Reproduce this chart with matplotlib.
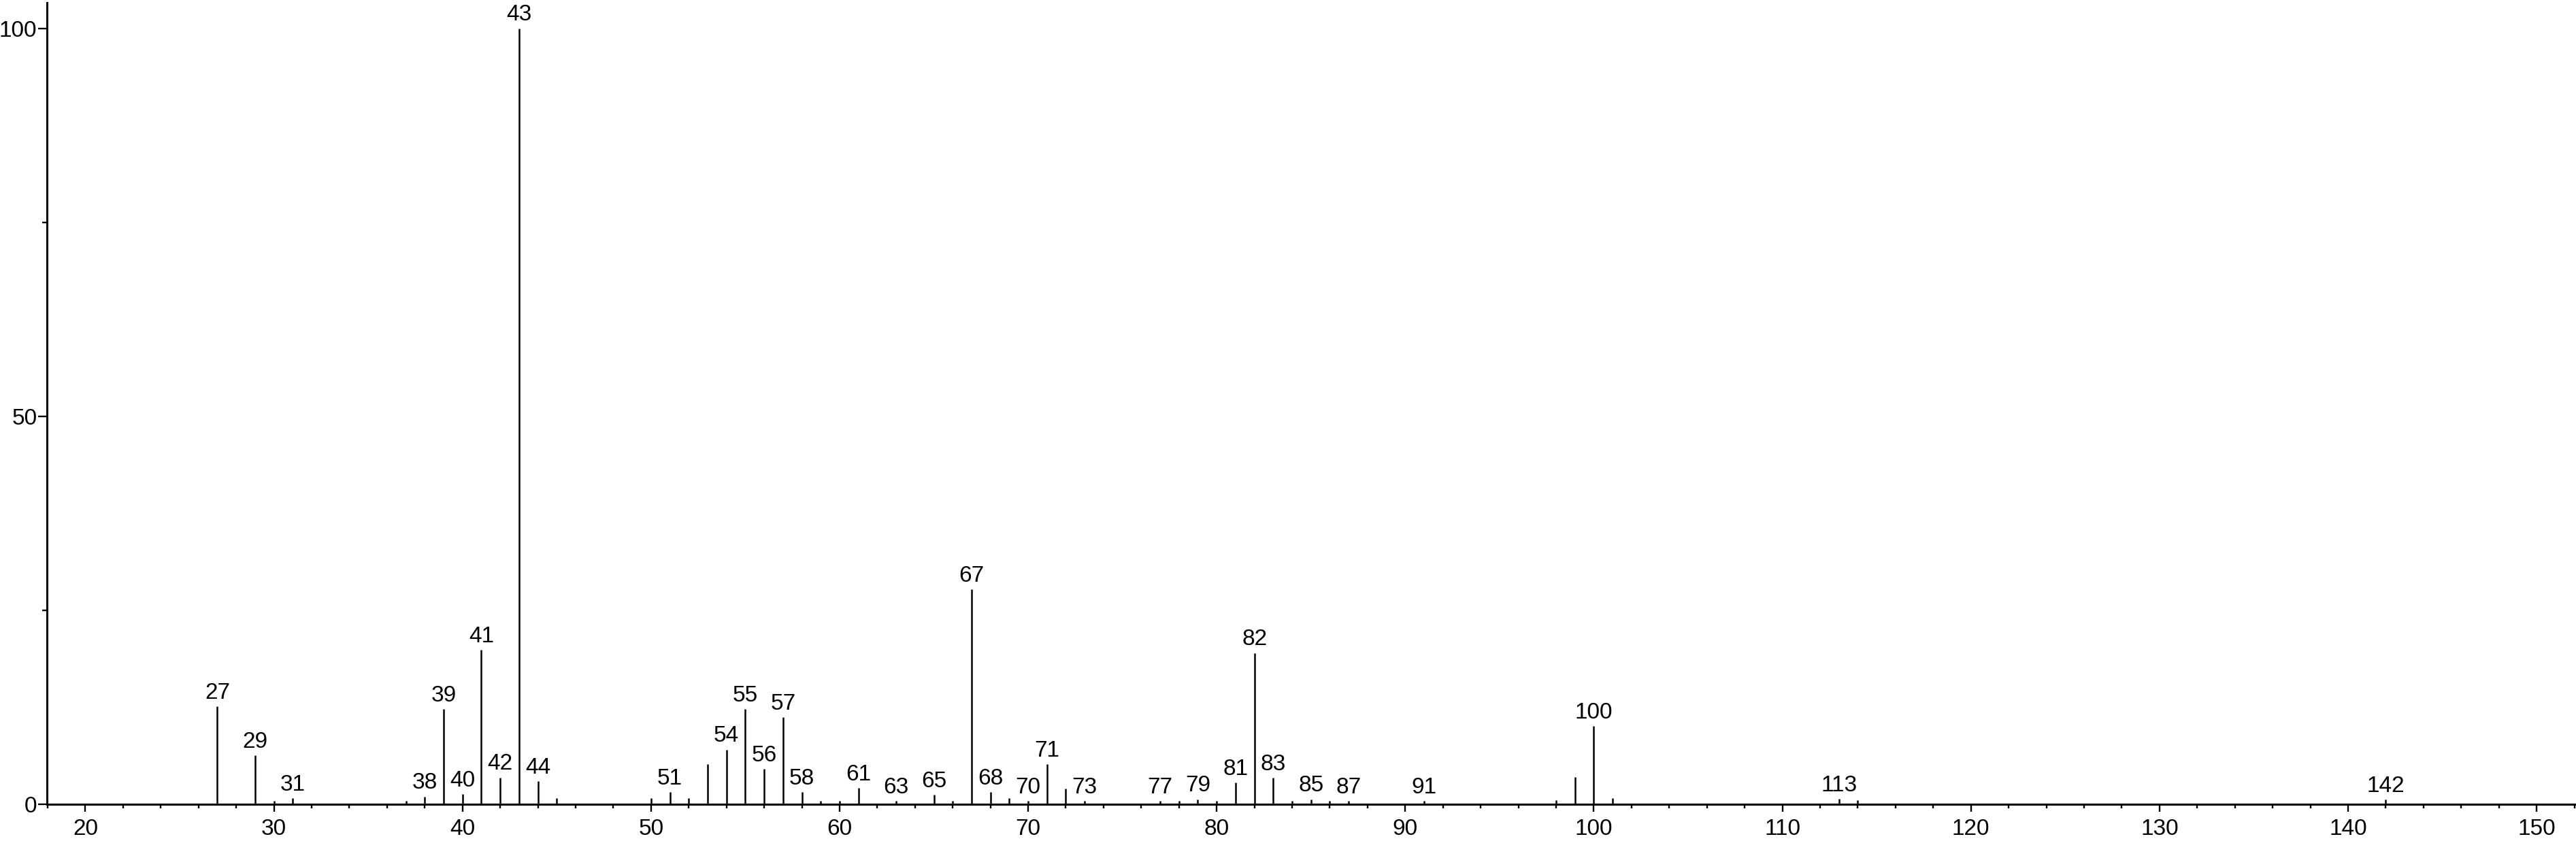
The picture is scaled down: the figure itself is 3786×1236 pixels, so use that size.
import matplotlib
matplotlib.use('Agg')
import matplotlib.pyplot as plt
from matplotlib.ticker import MultipleLocator

plt.rcParams['font.family'] = ['Liberation Sans', 'DejaVu Sans']

# m/z and relative intensity (%)
mz = [27, 29, 30, 31, 37, 38, 39, 40, 41, 42, 43, 44, 45,
      50, 51, 52, 53, 54, 55, 56, 57, 58, 59, 60, 61, 63, 65, 66, 67, 68, 69,
      70, 71, 72, 73, 77, 78, 79, 80, 81, 82, 83, 84, 85, 86, 87, 91,
      98, 99, 100, 101, 113, 114, 142]
intensity = [12.6, 6.3, 0.45, 0.75, 0.45, 1.0, 12.3, 1.3, 19.9, 3.45, 100.0, 2.95, 0.75,
             0.75, 1.55, 0.75, 5.15, 7.05, 12.3, 4.55, 11.2, 1.55, 0.45, 0.45, 2.1, 0.45, 1.25, 0.45, 27.7, 1.55, 0.75,
             0.45, 5.15, 2.05, 0.4, 0.4, 0.4, 0.65, 0.4, 2.8, 19.5, 3.4, 0.4, 0.65, 0.4, 0.4, 0.4,
             0.5, 3.5, 10.1, 0.8, 0.7, 0.5, 0.6]

# peaks that carry a text label
labeled = [27, 29, 31, 38, 39, 40, 41, 42, 43, 44, 51, 54, 55, 56, 57, 58, 61, 63,
           65, 67, 68, 70, 71, 73, 77, 79, 81, 82, 83, 85, 87, 91, 100, 113, 142]

fig = plt.figure(figsize=(37.86, 12.36), dpi=100)
ax = fig.add_axes([0.0182, 0.0437, 0.9818, 0.9531])

ax.vlines(mz, 0, intensity, color='black', linewidth=1.8)

lookup = dict(zip(mz, intensity))
for m in labeled:
    ax.annotate(str(m), (m, lookup[m]), xytext=(0, 3), textcoords='offset points',
                ha='center', va='bottom', fontsize=24)

ax.set_xlim(17.96, 152.09)
ax.set_ylim(0, 103.3)

ax.xaxis.set_major_locator(MultipleLocator(10))
ax.xaxis.set_minor_locator(MultipleLocator(2))
ax.yaxis.set_major_locator(MultipleLocator(50))
ax.yaxis.set_minor_locator(MultipleLocator(25))

for s in ['top', 'right']:
    ax.spines[s].set_visible(False)
for s in ['left', 'bottom']:
    ax.spines[s].set_linewidth(2.2)

ax.tick_params(axis='x', which='major', length=8, width=1.7, pad=7, labelsize=24)
ax.tick_params(axis='x', which='minor', length=4.3, width=1.7)
ax.tick_params(axis='y', which='major', length=9.4, width=1.7, pad=1, labelsize=24)
ax.tick_params(axis='y', which='minor', length=5, width=1.7)

plt.savefig('out.png', dpi=100)
